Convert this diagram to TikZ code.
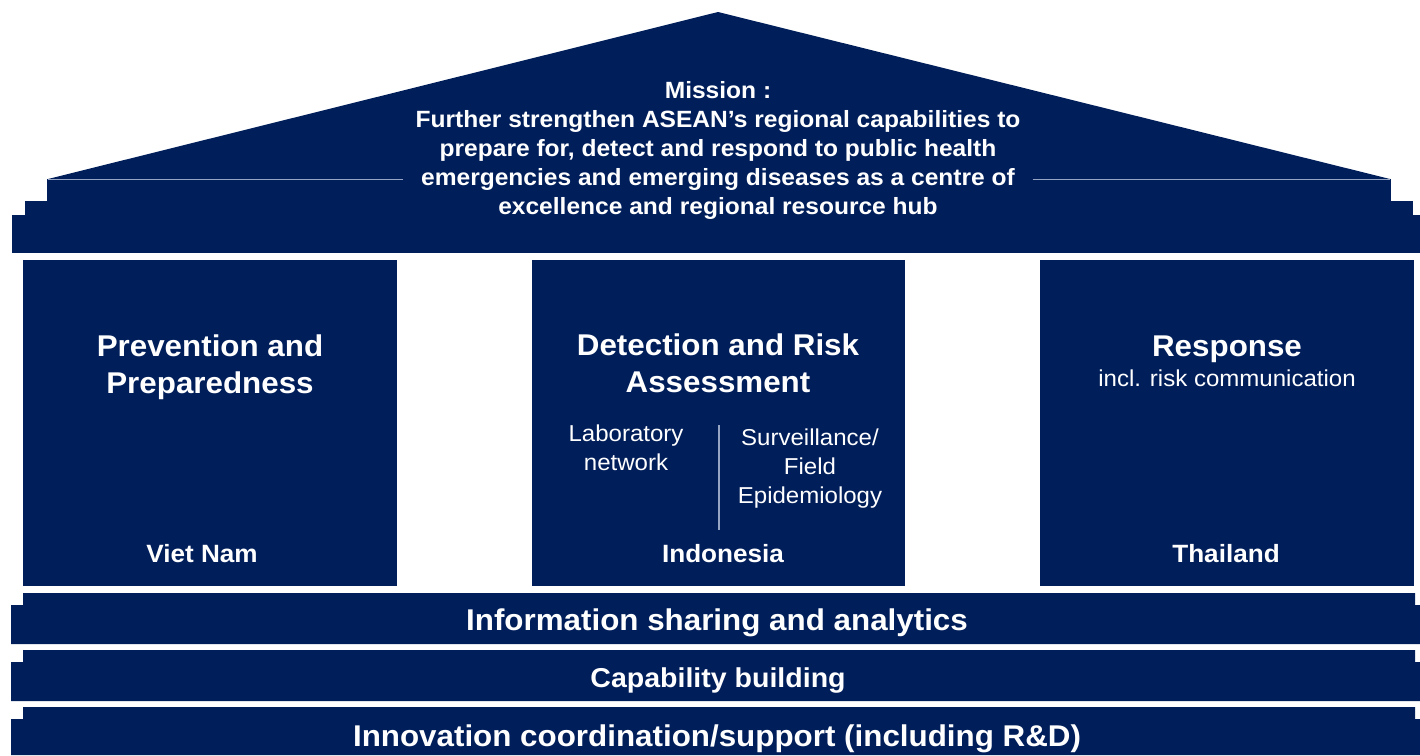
\documentclass[tikz,border=0pt]{standalone}
\usepackage{fontspec}
\setmainfont[FakeStretch=1.045]{Liberation Sans}
\definecolor{navy}{RGB}{0,30,90}
\definecolor{rim}{RGB}{150,165,195}

\begin{document}
\begin{tikzpicture}[x=1pt, y=-1pt,
  every node/.style={text=white, align=center, inner sep=0pt},
  head/.style={font=\bfseries\fontsize{30}{37}\selectfont},
  country/.style={font=\bfseries\fontsize{25}{30}\selectfont},
  sub/.style={font=\fontsize{23}{29}\selectfont},
  band/.style={font=\bfseries\fontsize{30}{36}\selectfont}]

  \useasboundingbox (0,0) rectangle (1420,755);

  % Roof and steps
  \coordinate (eaveL) at (48,179);
  \coordinate (apex) at (718,12);
  \coordinate (eaveR) at (1390,179);
  \fill[navy] (eaveL) -- (apex) -- (eaveR) -- cycle;
  \fill[navy] (47,179) rectangle (1391,201);
  \fill[navy] (25,201) rectangle (1413,215);
  \fill[navy] (12,215) rectangle (1420,253);

  % Mission
  \node[font=\bfseries\fontsize{23.5}{29}\selectfont, inner xsep=12pt] (mission) at (718,150)
    {Mission :\\Further strengthen ASEAN’s regional capabilities to\\prepare for, detect and respond to public health\\emergencies and emerging diseases as a centre of\\excellence and regional resource hub};
  \draw[rim] (eaveL) -- (eaveL -| mission.west);
  \draw[rim] (mission.east |- eaveR) -- (eaveR);

  % Pillars
  \fill[navy] (23,260) rectangle (397,586);
  \fill[navy] (532,260) rectangle (905,586);
  \fill[navy] (1040,260) rectangle (1414,586);

  \node[head] (prev) at (210,367) {Prevention and\\Preparedness};
  \node[head] (detect) at (718,363) {Detection and Risk\\Assessment};
  \node[head] (resp) at (1227,349) {Response};
  \node[sub] (respsub) at (1227,378) {incl. risk communication};

  \node[sub] (lab) at (626,448) {Laboratory\\network};
  \node[sub] (surv) at (810,468.5) {Surveillance/\\Field\\Epidemiology};
  \coordinate (divT) at (719,425);
  \coordinate (divB) at (719,530);
  \draw[rim, line width=1.5pt] (divT) -- (divB);

  \node[country] (vn) at (202,554) {Viet Nam};
  \node[country] (id) at (723,554) {Indonesia};
  \node[country] (th) at (1226,554) {Thailand};

  % Foundation bands
  \foreach \t/\b in {593/644, 650/701, 707/755}
    \fill[navy] (23,\t) -- (1415,\t) -- (1415,\t+12) -- (1420,\t+12) -- (1420,\b)
      -- (11,\b) -- (11,\t+12) -- (23,\t+12) -- cycle;

  \node[band] (info) at (717,623) {Information sharing and analytics};
  \node[band, font=\bfseries\fontsize{27.3}{33}\selectfont] (cap) at (718,680) {Capability building};
  \node[band] (innov) at (717,739) {Innovation coordination/support (including R\&D)};

\end{tikzpicture}
\end{document}
